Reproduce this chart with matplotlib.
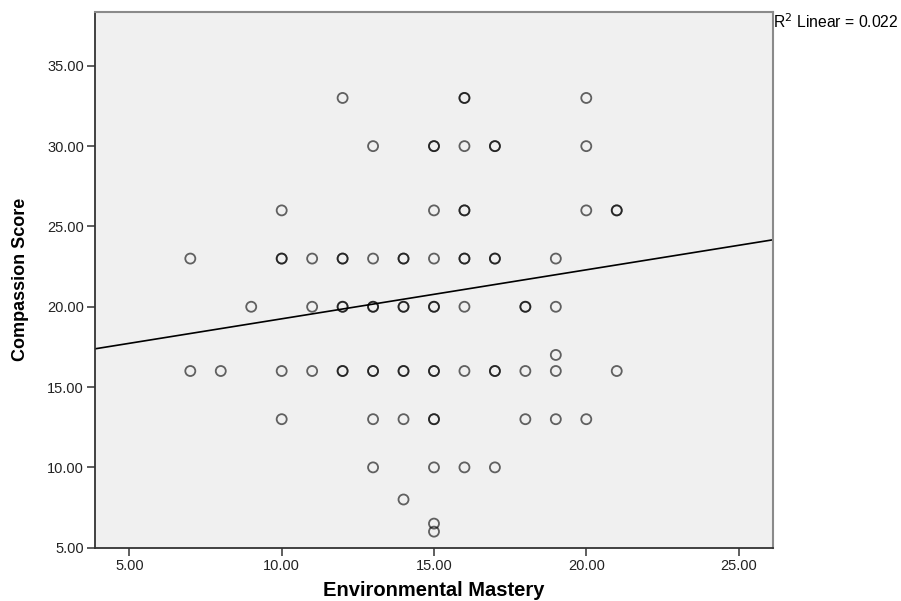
import numpy as np
import matplotlib.pyplot as plt

plt.rcParams['font.family'] = ['Liberation Sans', 'DejaVu Sans']

# Environmental Mastery vs Compassion Score (tied cases are listed once per case)
env_mastery = [12, 16, 16, 20,
               13, 15, 15, 16, 17, 17, 20,
               10, 15, 16, 16, 20, 21, 21,
               7, 10, 10, 11, 12, 12, 13, 14, 14, 15, 16, 16, 17, 17, 19,
               9, 11, 12, 12, 13, 13, 14, 14, 15, 15, 16, 18, 18, 19,
               19,
               7, 8, 10, 11, 12, 12, 13, 13, 14, 14, 15, 15, 16, 17, 17, 18, 19, 21,
               10, 13, 14, 15, 15, 18, 19, 20,
               13, 15, 16, 17,
               14,
               15,
               15]
compassion = [33, 33, 33, 33,
              30, 30, 30, 30, 30, 30, 30,
              26, 26, 26, 26, 26, 26, 26,
              23, 23, 23, 23, 23, 23, 23, 23, 23, 23, 23, 23, 23, 23, 23,
              20, 20, 20, 20, 20, 20, 20, 20, 20, 20, 20, 20, 20, 20,
              17,
              16, 16, 16, 16, 16, 16, 16, 16, 16, 16, 16, 16, 16, 16, 16, 16, 16, 16,
              13, 13, 13, 13, 13, 13, 13, 13,
              10, 10, 10, 10,
              8,
              6.5,
              6]

# linear fit line
fit_intercept = 16.2
fit_slope = 0.305
r_squared = 0.022

x_ticks = [5, 10, 15, 20, 25]
y_ticks = [5, 10, 15, 20, 25, 30, 35]

fig = plt.figure(figsize=(9.01, 6.01), dpi=100)
ax = fig.add_axes([0.1054, 0.0887, 0.7522, 0.8913])
ax.set_facecolor('#f0f0f0')

ax.scatter(env_mastery, compassion, s=52, facecolors='none',
           edgecolors=(0, 0, 0, 0.6), linewidths=1.3, zorder=3)

xlim = (3.87, 26.12)
xs = np.array(xlim)
ax.plot(xs, fit_intercept + fit_slope * xs, color='black', lw=1.2, zorder=2)

ax.set_xlim(*xlim)
ax.set_ylim(5, 38.35)
ax.set_xticks(x_ticks)
ax.set_yticks(y_ticks)
ax.set_xticklabels([f'{v:.2f}' for v in x_ticks])
ax.set_yticklabels([f'{v:.2f}' for v in y_ticks])
ax.tick_params(direction='out', length=6, width=1.1, color='#333333',
               labelsize=10.5, labelcolor='#222222', pad=2)

for side in ['left', 'bottom']:
    ax.spines[side].set_color('#333333')
    ax.spines[side].set_linewidth(1.3)
for side in ['top', 'right']:
    ax.spines[side].set_color('#8a8a8a')
    ax.spines[side].set_linewidth(1.5)

ax.set_ylabel('Compassion Score', fontsize=13, fontweight='bold')
ax.yaxis.set_label_coords(-0.097, 0.5)
fig.text(434 / 901, 1 / 601, 'Environmental Mastery', fontsize=14.5,
         fontweight='bold', ha='center', va='bottom')

fig.text(773 / 901, 1 - 12 / 601, f'R$^2$ Linear = {r_squared:.3f}',
         fontsize=11.3, ha='left', va='top')

plt.savefig('out.png', dpi=100)
